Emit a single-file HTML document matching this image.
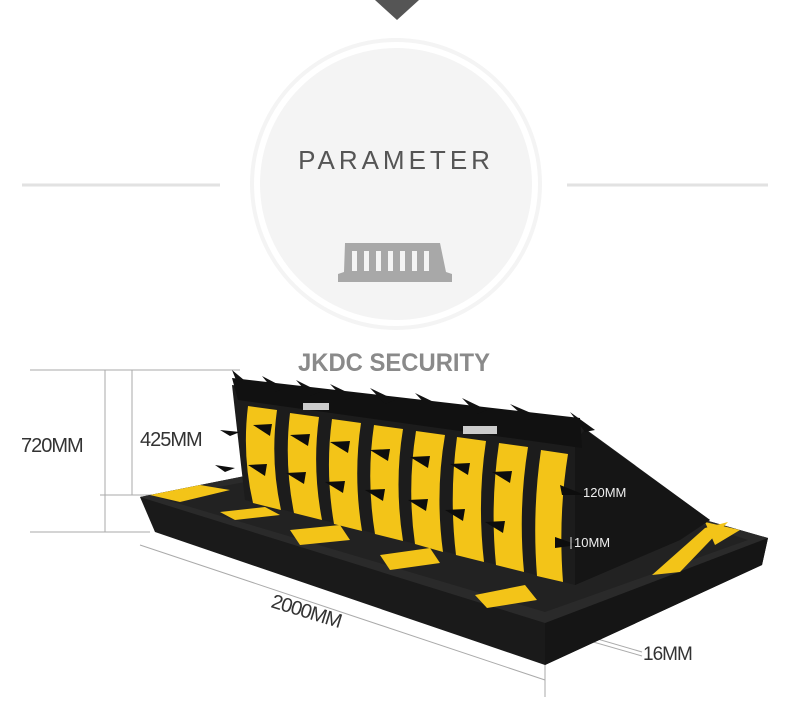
<!DOCTYPE html>
<html><head><style>
html,body{margin:0;padding:0;background:#fff;}
body{width:790px;height:723px;overflow:hidden;position:relative;font-family:"Liberation Sans",sans-serif;}
</style></head><body>
<svg width="790" height="723" viewBox="0 0 790 723" xmlns="http://www.w3.org/2000/svg" style="position:absolute;left:0;top:0">
<polygon points="375,0 419,0 397,20" fill="#555"/>
<line x1="22" y1="185" x2="220" y2="185" stroke="#e2e2e2" stroke-width="3"/>
<line x1="567" y1="185" x2="768" y2="185" stroke="#e2e2e2" stroke-width="3"/>
<circle cx="396" cy="184" r="146" fill="#f4f4f4"/>
<circle cx="396" cy="184" r="139" fill="none" stroke="#fff" stroke-width="6"/>
<text x="396" y="169" text-anchor="middle" font-size="26" letter-spacing="4" fill="#555" font-family="Liberation Sans,sans-serif">PARAMETER</text>
<g fill="#a8a8a8">
<polygon points="345,243 440,243 446,272 452,274 452,282 338,282 338,274 344,272"/>
</g>
<g fill="#f4f4f4">
<rect x="352" y="251" width="5" height="20"/><rect x="364" y="251" width="5" height="20"/><rect x="376" y="251" width="5" height="20"/><rect x="388" y="251" width="5" height="20"/><rect x="400" y="251" width="5" height="20"/><rect x="412" y="251" width="5" height="20"/><rect x="424" y="251" width="5" height="20"/>
</g>
<g stroke="#aaa" stroke-width="1" fill="none">
<line x1="30" y1="370" x2="240" y2="370"/>
<line x1="105" y1="370" x2="105" y2="532"/>
<line x1="132" y1="370" x2="132" y2="495"/>
<line x1="30" y1="532" x2="150" y2="532"/>
<line x1="100" y1="495" x2="240" y2="495"/>
<line x1="140" y1="545" x2="545" y2="680"/>
<line x1="545" y1="620" x2="545" y2="697"/>
<line x1="440" y1="593" x2="642" y2="652"/>
<line x1="440" y1="598" x2="642" y2="656"/>
</g>
<polygon points="140,497 245,476 705,520 768,538 762,565 545,665 155,532" fill="#1a1a1a"/>
<polygon points="545,623 768,538 762,565 545,665" fill="#151515"/>
<polygon points="140,497 245,476 705,520 768,538 545,623" fill="#2a2a2a"/>
<polygon points="160,498 245,482 700,524 748,540 545,612" fill="#222"/>
<g fill="#f3c418">
<polygon points="150,495 200,485 230,490 180,502"/>
<polygon points="220,512 265,507 280,515 235,520"/>
<polygon points="290,530 340,525 350,540 300,545"/>
<polygon points="380,555 430,548 440,563 390,570"/>
<polygon points="475,595 525,585 537,600 487,608"/>
<polygon points="652,575 705,528 728,522 680,572"/>
<polygon points="705,522 740,530 715,545"/>
</g>
<polygon points="232,385 580,425 710,520 680,540 575,585 245,500" fill="#1c1c1c"/>
<polygon points="575,440 585,430 710,520 680,540 575,585" fill="#151515"/>
<polygon points="232,378 580,418 582,448 238,400" fill="#111"/>
<g fill="#f3c418">
<path d="M248,406 Q242,455 253,503 L281,510 Q270,460 277,410 Z"/>
<path d="M290,413 Q284,463 294,513 L322,520 Q312,468 319,417 Z"/>
<path d="M332,419 Q325,471 334,524 L362,531 Q353,476 361,423 Z"/>
<path d="M374,425 Q366,479 375,534 L403,541 Q394,484 403,429 Z"/>
<path d="M416,431 Q407,488 415,544 L443,552 Q435,493 445,435 Z"/>
<path d="M457,437 Q449,496 456,555 L484,562 Q477,501 486,441 Z"/>
<path d="M499,443 Q490,504 496,565 L524,572 Q518,509 528,447 Z"/>
<path d="M541,450 Q532,512 537,576 L563,582 Q558,516 568,454 Z"/>
</g>
<g fill="#111">
<polygon points="232,370 250,385 240,390"/>
<polygon points="262,376 285,388 275,392"/>
<polygon points="296,380 320,392 310,396"/>
<polygon points="330,384 355,396 345,400"/>
<polygon points="370,388 395,400 385,404"/>
<polygon points="415,393 440,405 430,409"/>
<polygon points="462,398 487,410 477,414"/>
<polygon points="510,404 538,416 528,420"/>
<polygon points="570,412 595,430 585,432"/>
</g>
<rect x="303" y="403" width="26" height="7" fill="#ccc"/>
<rect x="463" y="426" width="34" height="8" fill="#ccc"/>
<g fill="#0d0d0d">
<polygon points="253,425 272,424 270,436"/><polygon points="248,465 267,464 265,476"/>
<polygon points="290,435 310,434 308,446"/><polygon points="286,473 306,472 304,484"/>
<polygon points="330,442 350,441 348,453"/><polygon points="325,482 345,481 343,493"/>
<polygon points="370,450 390,449 388,461"/><polygon points="365,490 385,489 383,501"/>
<polygon points="410,457 430,456 428,468"/><polygon points="408,500 428,499 426,511"/>
<polygon points="450,464 470,463 468,475"/><polygon points="445,510 465,509 463,521"/>
<polygon points="492,472 512,471 510,483"/><polygon points="485,522 505,521 503,533"/>
<polygon points="560,485 585,495 562,495"/><polygon points="555,537 578,545 555,548"/>
<polygon points="215,465 235,468 225,472"/><polygon points="220,430 240,432 230,436"/>
</g>
<line x1="571" y1="537" x2="571" y2="549" stroke="#ddd"/>
<text x="298" y="371" font-size="25" font-weight="bold" fill="#8a8a8a" font-family="Liberation Sans Narrow,Liberation Sans,sans-serif" textLength="192" lengthAdjust="spacingAndGlyphs">JKDC SECURITY</text>
<g fill="#333" font-family="Liberation Sans,sans-serif">
<text x="21" y="452" font-size="20" letter-spacing="-1">720MM</text>
<text x="140" y="446" font-size="20" letter-spacing="-1">425MM</text>
<text x="583" y="497" font-size="13" fill="#eee">120MM</text>
<text x="574" y="547" font-size="13" fill="#eee">10MM</text>
<text x="643" y="660" font-size="19" letter-spacing="-1">16MM</text>
<text x="270" y="607" font-size="20" letter-spacing="-1" transform="rotate(17 270 607)">2000MM</text>
</g>
</svg>
</body></html>
